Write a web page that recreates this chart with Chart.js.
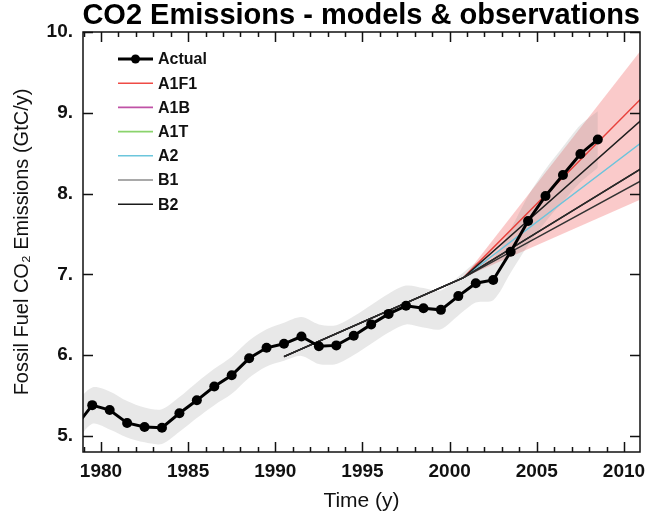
<!DOCTYPE html>
<html>
<head>
<meta charset="utf-8">
<script src="https://cdn.jsdelivr.net/npm/chart.js@4.4.0/dist/chart.umd.min.js"></script>
<style>
  html, body { margin: 0; padding: 0; background: #fff; }
</style>
</head>
<body>
<canvas id="co2Chart" width="648" height="526"></canvas>
<script>
// observed fossil fuel emissions (GtC/y), plotted at mid-year
const actualYears = [1978.5, 1979.5, 1980.5, 1981.5, 1982.5, 1983.5, 1984.5, 1985.5, 1986.5, 1987.5,
    1988.5, 1989.5, 1990.5, 1991.5, 1992.5, 1993.5, 1994.5, 1995.5, 1996.5, 1997.5,
    1998.5, 1999.5, 2000.5, 2001.5, 2002.5, 2003.5, 2004.5, 2005.5, 2006.5, 2007.5, 2008.5];
const actualValues = [5.10, 5.38, 5.32, 5.16, 5.11, 5.10, 5.28, 5.44, 5.61, 5.75,
    5.96, 6.09, 6.14, 6.23, 6.11, 6.12, 6.24, 6.38, 6.51, 6.61,
    6.58, 6.56, 6.73, 6.89, 6.93, 7.28, 7.66, 7.97, 8.23, 8.49, 8.67];

// grey uncertainty band around the observations
const bandHigh = [5.40, 5.60, 5.55, 5.43, 5.35, 5.33, 5.48, 5.66, 5.83, 5.98,
    6.18, 6.32, 6.40, 6.47, 6.38, 6.37, 6.48, 6.62, 6.76, 6.86,
    6.83, 6.80, 6.97, 7.14, 7.20, 7.56, 7.97, 8.30, 8.58, 8.85, 9.02];
const bandLow = [4.90, 5.15, 5.08, 4.98, 4.92, 4.90, 5.05, 5.22, 5.38, 5.52,
    5.72, 5.86, 5.93, 5.99, 5.89, 5.89, 6.00, 6.14, 6.28, 6.38,
    6.34, 6.32, 6.49, 6.65, 6.68, 7.02, 7.36, 7.65, 7.90, 8.14, 8.32];

// SRES scenarios: common path from 1990, fanning out after 2000
const scenarioYears = [1990.5, 2000.8, 2011];
const a1f1 = [5.98, 6.96, 9.18];
const a1b = [5.98, 6.96, 8.91];
const a1t = [5.98, 6.96, 8.31];
const a2 = [5.98, 6.96, 8.63];
const b1 = [5.98, 6.96, 8.16];
const b2 = [5.98, 6.96, 8.31];

// pink scenario envelope
const rangeYears = [2000.8, 2011];
const rangeHigh = [6.96, 9.78];
const rangeLow = [6.96, 7.93];

const yearTicks = [1980, 1985, 1990, 1995, 2000, 2005, 2010];
const valueTicks = [5, 6, 7, 8, 9, 10];

const pts = (xs, ys) => xs.map((x, i) => ({ x: x, y: ys[i] }));

const scenarioLine = (label, values, color, order) => ({
    label: label,
    data: pts(scenarioYears, values),
    borderColor: color,
    borderWidth: 1.4,
    pointRadius: 0,
    fill: false,
    clip: 0,
    order: order,
});

const legendItems = [
    { text: "Actual", color: "#000000", dot: true },
    { text: "A1F1", color: "#ef4b45" },
    { text: "A1B", color: "#c052a6" },
    { text: "A1T", color: "#8ad36c" },
    { text: "A2", color: "#6cc6dc" },
    { text: "B1", color: "#8c8c8c" },
    { text: "B2", color: "#1a1a1a" },
];

const framePlugin = {
    id: "frame",
    afterDraw(chart) {
        const { ctx, chartArea: a, scales } = chart;
        const x = scales.x;
        const y = scales.y;
        ctx.save();
        ctx.strokeStyle = "#111";
        ctx.lineWidth = 1.5;
        ctx.strokeRect(a.left, a.top, a.width, a.height);
        ctx.beginPath();
        for (let yr = yearTicks[0] - 1; yr <= yearTicks[yearTicks.length - 1]; yr++) {
            const px = Math.round(x.getPixelForValue(yr)) + 0.5;
            const len = yr % 5 === 0 ? 10 : 5;
            ctx.moveTo(px, a.bottom);
            ctx.lineTo(px, a.bottom - len);
            ctx.moveTo(px, a.top);
            ctx.lineTo(px, a.top + len);
        }
        valueTicks.forEach((v) => {
            const py = Math.round(y.getPixelForValue(v)) + 0.5;
            ctx.moveTo(a.left, py);
            ctx.lineTo(a.left + 10, py);
            ctx.moveTo(a.right, py);
            ctx.lineTo(a.right - 10, py);
        });
        ctx.stroke();

        // legend in the top-left corner of the plot
        ctx.font = "bold 16px 'Liberation Sans', Arial, sans-serif";
        ctx.textBaseline = "middle";
        legendItems.forEach((item, i) => {
            const rowY = a.top + 27 + i * 24.2;
            const x0 = a.left + 35;
            const x1 = a.left + 70;
            ctx.beginPath();
            ctx.strokeStyle = item.color;
            ctx.lineWidth = item.dot ? 3 : 1.6;
            ctx.moveTo(x0, rowY);
            ctx.lineTo(x1, rowY);
            ctx.stroke();
            if (item.dot) {
                ctx.beginPath();
                ctx.fillStyle = item.color;
                ctx.arc((x0 + x1) / 2, rowY, 4.5, 0, Math.PI * 2);
                ctx.fill();
            }
            ctx.fillStyle = "#111";
            ctx.fillText(item.text, x1 + 5, rowY + 1);
        });
        ctx.restore();
    },
};

const ctx = document.getElementById("co2Chart").getContext("2d");

const co2Chart = new Chart(ctx, {
    type: "line",
    data: {
        datasets: [
            { label: "range low", data: pts(rangeYears, rangeLow), borderColor: "transparent", pointRadius: 0, fill: false, clip: 0, order: 5 },
            { label: "range high", data: pts(rangeYears, rangeHigh), borderColor: "transparent", pointRadius: 0, fill: "-1", backgroundColor: "rgba(238,80,80,0.3)", clip: 0, order: 4 },
            { label: "band low", data: pts(actualYears, bandLow), borderColor: "transparent", pointRadius: 0, fill: false, tension: 0.3, clip: 0, order: 3 },
            { label: "band high", data: pts(actualYears, bandHigh), borderColor: "transparent", pointRadius: 0, fill: "-1", backgroundColor: "rgba(140,140,140,0.2)", tension: 0.3, clip: 0, order: 3 },
            scenarioLine("A1F1", a1f1, "#e8413c", 2.6),
            scenarioLine("A2", a2, "#6cc4dc", 2.5),
            scenarioLine("A1T", a1t, "#2a2a2a", 2),
            scenarioLine("B1", b1, "#333333", 2),
            scenarioLine("A1B", a1b, "#1e1e1e", 2),
            scenarioLine("B2", b2, "#1a1a1a", 2),
            {
                label: "Actual",
                data: pts(actualYears, actualValues),
                borderColor: "#000",
                backgroundColor: "#000",
                borderWidth: 3,
                pointRadius: 5,
                pointBorderWidth: 0,
                fill: false,
                clip: 0,
                order: 0,
            },
        ],
    },
    options: {
        responsive: false,
        animation: false,
        devicePixelRatio: 1,
        layout: { padding: { top: 0, right: 8, bottom: 12, left: 4 } },
        plugins: {
            legend: { display: false },
            tooltip: { enabled: false },
            title: {
                display: true,
                text: "CO2 Emissions - models & observations",
                align: "end",
                color: "#000",
                font: { family: "'Liberation Sans', Arial, sans-serif", size: 29, weight: "bold", lineHeight: 1.0 },
                padding: { top: 1, bottom: 2 },
            },
        },
        scales: {
            x: {
                type: "linear",
                min: 1978.97,
                max: 2010.92,
                afterBuildTicks: (scale) => {
                    scale.ticks = yearTicks.map((v) => ({ value: v }));
                },
                afterFit: (scale) => {
                    scale.height = 62;
                    scale.paddingLeft = 0;
                    scale.paddingRight = 0;
                },
                grid: { display: false, drawTicks: false },
                border: { display: false },
                ticks: {
                    color: "#111",
                    padding: 8,
                    maxRotation: 0,
                    font: { family: "'Liberation Sans', Arial, sans-serif", size: 19, weight: "bold" },
                    callback: (v) => String(v),
                },
                title: {
                    display: true,
                    text: "Time (y)",
                    color: "#111",
                    font: { family: "'Liberation Sans', Arial, sans-serif", size: 21 },
                    padding: { top: 4, bottom: 0 },
                },
            },
            y: {
                type: "linear",
                min: 4.8,
                max: 10,
                afterBuildTicks: (scale) => {
                    scale.ticks = valueTicks.map((v) => ({ value: v }));
                },
                afterFit: (scale) => {
                    scale.width = 79;
                },
                grid: { display: false, drawTicks: false },
                border: { display: false },
                ticks: {
                    color: "#111",
                    padding: 10,
                    font: { family: "'Liberation Sans', Arial, sans-serif", size: 19, weight: "bold" },
                    callback: (v) => v + ".",
                },
                title: {
                    display: true,
                    text: "Fossil Fuel CO\u2082 Emissions (GtC/y)",
                    color: "#111",
                    font: { family: "'Liberation Sans', Arial, sans-serif", size: 20 },
                    padding: { top: 6, bottom: 4 },
                },
            },
        },
    },
    plugins: [framePlugin],
});
</script>
</body>
</html>
